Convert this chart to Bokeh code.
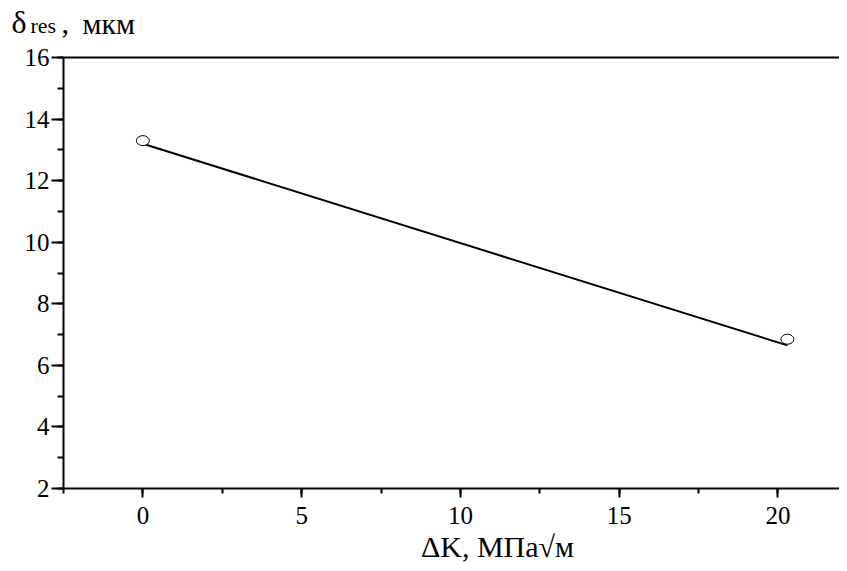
from bokeh.plotting import figure
from bokeh.models import Range1d, SingleIntervalTicker, FixedTicker, LinearAxis, Label
from bokeh.embed import file_html
from bokeh.resources import INLINE

# data
marker_x = [0.0, 20.3]
marker_y = [13.3, 6.85]
line_x = [0.0, 20.3]
line_y = [13.2, 6.65]

x_min, x_max = -2.5, 21.94
y_min, y_max = 2, 16

x_label = "ΔK, МПа√м"
y_label_parts = ["δ", "res", ",", "мкм"]
y_label_sizes = ["32px", "22px", "30px", "30px"]

FONT = "Liberation Serif"
W, H = 839, 563
PX_X = 31.75   # pixels per x unit
PX_Y = 30.79   # pixels per y unit
LEFT, TOP = 63, 57
LABEL_SHIFT = 8

# the frame fills the whole figure; axes sit at fixed positions inside it
xr = Range1d(x_min - LEFT / PX_X, x_min + (W - LEFT) / PX_X)
yr = Range1d(y_max - (H - TOP) / PX_Y, y_max + TOP / PX_Y)

p = figure(width=W, height=H, output_backend="svg", toolbar_location=None,
           x_range=xr, y_range=yr, x_axis_type=None, y_axis_type=None,
           min_border_left=0, min_border_right=0, min_border_top=0, min_border_bottom=0)
p.outline_line_color = None
p.grid.visible = False

xaxis = LinearAxis(ticker=SingleIntervalTicker(interval=5, num_minor_ticks=2),
                   fixed_location=y_min, bounds=(x_min, x_max))
yaxis = LinearAxis(ticker=SingleIntervalTicker(interval=2, num_minor_ticks=2),
                   fixed_location=x_min, bounds=(y_min, y_max))
for ax in (xaxis, yaxis):
    ax.axis_line_width = 2
    ax.axis_line_color = "black"
    ax.major_tick_line_width = 2
    ax.minor_tick_line_width = 2
    ax.major_tick_in = 0
    ax.minor_tick_in = 0
    ax.major_label_text_font = FONT
    ax.major_label_text_font_size = "25px"
    ax.major_label_text_color = "black"
xaxis.major_tick_out = 9
xaxis.minor_tick_out = 5
xaxis.major_label_standoff = 9
yaxis.major_tick_out = 12
yaxis.minor_tick_out = 6
yaxis.major_label_standoff = 2
p.add_layout(xaxis, "below")
p.add_layout(yaxis, "left")

top = LinearAxis(ticker=FixedTicker(ticks=[]), fixed_location=y_max, bounds=(x_min, x_max),
                 axis_line_width=2, axis_line_color="black",
                 major_tick_out=0, minor_tick_out=0, major_tick_in=0, minor_tick_in=0)
p.add_layout(top, "above")

p.line(line_x, line_y, line_color="black", line_width=2)
p.ellipse(marker_x, marker_y, width=13, height=10, width_units="screen", height_units="screen",
          fill_color="white", line_color="black", line_width=1)

# axis titles as real text (screen units from the figure's bottom-left)
p.add_layout(Label(x=497, y=H - 554 + LABEL_SHIFT, x_units="screen", y_units="screen",
                   text=x_label, text_font=FONT, text_font_size="30px", text_align="center",
                   text_baseline="alphabetic", text_color="black"))
for t, s, sx, base in zip(y_label_parts, y_label_sizes, [11, 30, 61, 82], [29, 33, 31, 31]):
    p.add_layout(Label(x=sx, y=H - base + LABEL_SHIFT, x_units="screen", y_units="screen",
                       text=t, text_font=FONT, text_font_size=s, text_align="left",
                       text_baseline="alphabetic", text_color="black"))

open("out.html", "w").write(file_html(p, INLINE))
